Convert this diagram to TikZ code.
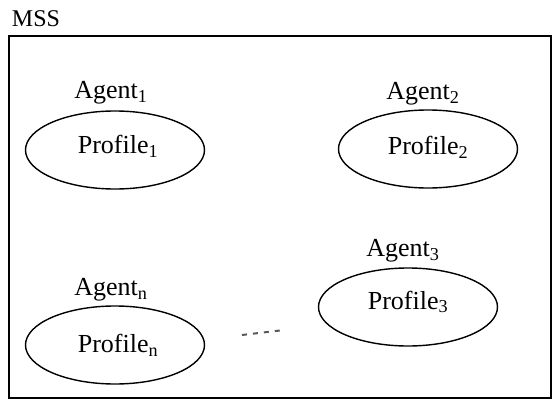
\documentclass[tikz,border=0pt]{standalone}
\usepackage{fontspec}
\setmainfont{Liberation Serif}
\usetikzlibrary{shapes.geometric}
\begin{document}
\begin{tikzpicture}[x=1pt,y=-1pt,
  lbl/.style={font=\fontsize{26}{28}\selectfont, inner sep=0pt},
  prof/.style={ellipse, draw, line width=1.4pt, minimum width=179pt, minimum height=78pt, inner sep=0pt}]
\useasboundingbox (0,0) rectangle (552,407);
\node[font=\fontsize{24}{26}\selectfont, inner sep=0pt] (mss) at (36,19) {MSS};
\node[draw, line width=1.6pt, minimum width=542pt, minimum height=362pt, inner sep=0pt, anchor=north west] (frame) at (8,35) {};
% ellipses
\node[prof] (e1) at (115,150) {};
\node[prof] (e2) at (428,149) {};
\node[prof] (en) at (115,345) {};
\node[prof] (e3) at (408,307) {};
% labels
\node[lbl] (a1) at (111,93) {Agent\textsubscript{1}};
\node[lbl] (a2) at (423,94) {Agent\textsubscript{2}};
\node[lbl] (a3) at (403,251) {Agent\textsubscript{3}};
\node[lbl] (an) at (111,290) {Agent\textsubscript{n}};
\node[lbl] (p1) at (118,146) {Profile\textsubscript{1}};
\node[lbl] (p2) at (428,147) {Profile\textsubscript{2}};
\node[lbl] (p3) at (408,302) {Profile\textsubscript{3}};
\node[lbl] (pn) at (118,345) {Profile\textsubscript{n}};
% dots
\coordinate (d1) at (242,335);
\coordinate (d2) at (284,330);
\draw[line width=2pt, dash pattern=on 5pt off 6pt, gray!70!black] (d1) -- (d2);
\end{tikzpicture}
\end{document}
